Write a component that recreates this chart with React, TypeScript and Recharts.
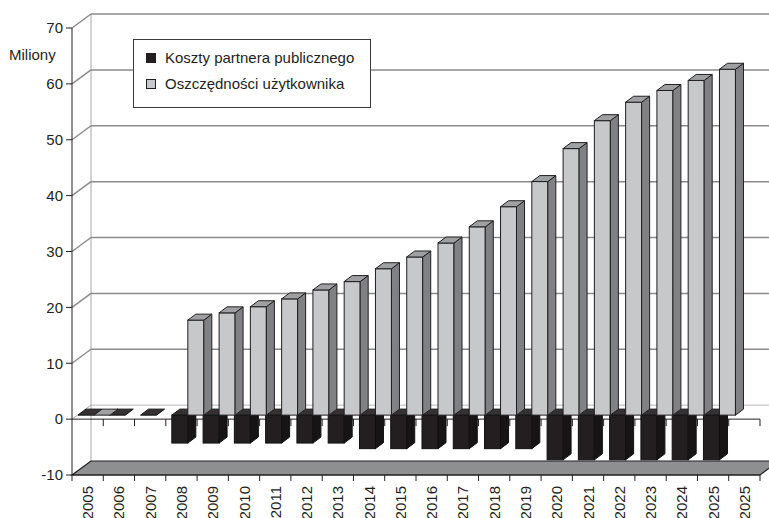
import React from 'react';
import { BarChart, Bar, XAxis, YAxis, CartesianGrid, Legend } from 'recharts';

const years = ['2005','2006','2007','2008','2009','2010','2011','2012','2013','2014','2015','2016','2017','2018','2019','2020','2021','2022','2023','2024','2025','2025'];
const kosztyValues: (number | null)[] = [0,0,0,-5,-5,-5,-5,-5,-5,-6,-6,-6,-6,-6,-6,-8,-8,-8,-8,-8,-8,null];
const oszczValues: (number | null)[] = [0,null,null,17,18.3,19.4,20.8,22.4,23.9,26.2,28.3,30.8,33.7,37.3,41.8,47.7,52.7,56,58.1,59.9,61.9,null];
const yTicks = [-10,0,10,20,30,40,50,60,70];
const seriesNames = ['Koszty partnera publicznego', 'Oszczędności użytkownika'];
const Y_MIN = -10;
const Y_MAX = 70;

const data = years.map((year, i) => ({ year, koszty: kosztyValues[i], oszcz: oszczValues[i] }));

const FONT = '"Liberation Sans", Arial, sans-serif';
const INK = '#231f20';
// 3D geometry
const WALL_DX = 19, WALL_DY = -14;
const BAR_DX = 6, BAR_DY = -4;
const DEPTH_DX = 8, DEPTH_DY = -6;

const pts = (arr: number[][]) => arr.map(([a, b]) => `${a},${b}`).join(' ');

const make3DShape = (c: { front: string; side: string; top: string; stroke: string }) => (props: any) => {
  const { x, y, width, height } = props;
  if (x == null || y == null || width == null || height == null || isNaN(x) || isNaN(y)) return <g />;
  const x0 = x + BAR_DX;
  const x1 = x0 + width;
  const yA = Math.min(y, y + height) + BAR_DY;
  const yB = Math.max(y, y + height) + BAR_DY;
  const tall = yB - yA > 0.5;
  return (
    <g>
      {tall && (
        <rect x={x0} y={yA} width={width} height={yB - yA} fill={c.front} stroke={c.stroke} strokeWidth={1} />
      )}
      {tall && (
        <polygon
          points={pts([[x1, yA], [x1 + DEPTH_DX, yA + DEPTH_DY], [x1 + DEPTH_DX, yB + DEPTH_DY], [x1, yB]])}
          fill={c.side} stroke={c.stroke} strokeWidth={1} strokeLinejoin="round"
        />
      )}
      <polygon
        points={pts([[x0, yA], [x1, yA], [x1 + DEPTH_DX, yA + DEPTH_DY], [x0 + DEPTH_DX, yA + DEPTH_DY]])}
        fill={c.top} stroke={c.stroke} strokeWidth={1} strokeLinejoin="round"
      />
    </g>
  );
};

const blackShape = make3DShape({ front: '#231f20', side: '#171415', top: '#353132', stroke: '#111' });
const grayShape = make3DShape({ front: '#c7c8ca', side: '#808184', top: '#9fa0a2', stroke: '#231f20' });

const renderGridLine = (props: any) => {
  const { x1, y1, x2, index } = props;
  const k = props.key ?? `gl-${index}`;
  const points: number[] = Array.isArray(props.horizontalPoints) && props.horizontalPoints.length
    ? props.horizontalPoints
    : [y1];
  const bottom = props.y != null && props.height != null ? props.y + props.height : Math.max(...points);
  const top = props.y != null && props.height != null ? props.y : Math.min(...points);
  const span = bottom - top || 1;
  const value = Y_MIN + ((bottom - y1) / span) * (Y_MAX - Y_MIN);
  const n = years.length;
  const bw = (x2 - x1) / n;

  if (Math.abs(value - Y_MIN) < 0.01) {
    return (
      <g key={k}>
        <line x1={x1 + WALL_DX} y1={top + WALL_DY} x2={x1 + WALL_DX} y2={y1 + WALL_DY} stroke="#a6a7a9" strokeWidth={1} />
        <polygon
          points={pts([[x1, y1], [x2, y1], [x2 + WALL_DX, y1 + WALL_DY], [x1 + WALL_DX, y1 + WALL_DY]])}
          fill="#8e8f91" stroke={INK} strokeWidth={1.2}
        />
      </g>
    );
  }
  const isZero = Math.abs(value) < 0.01;
  return (
    <g key={k}>
      <line x1={x1} y1={y1} x2={x1 + WALL_DX} y2={y1 + WALL_DY} stroke={isZero ? '#a6a7a9' : '#8a8b8d'} strokeWidth={isZero ? 1 : 1.5} />
      <line x1={x1 + WALL_DX} y1={y1 + WALL_DY} x2={x2 + WALL_DX} y2={y1 + WALL_DY} stroke={isZero ? '#b5b6b8' : '#8a8b8d'} strokeWidth={isZero ? 1 : 1.5} />
      {isZero && (
        <g>
          <line x1={x1} y1={y1} x2={x2} y2={y1} stroke={INK} strokeWidth={1} />
          {years.map((_, i) => (
            <line key={`zt-${i}`} x1={x1 + (i + 1) * bw} y1={y1} x2={x1 + (i + 1) * bw} y2={y1 + 7} stroke={INK} strokeWidth={1} />
          ))}
        </g>
      )}
    </g>
  );
};

const XTick = (props: any) => {
  const { x, y, payload, index } = props;
  const half = payload && payload.offset ? payload.offset : 15.64;
  const axisY = y - 11;
  const last = index === years.length - 1;
  return (
    <g>
      <line x1={x - half} y1={axisY} x2={x - half} y2={axisY + 6} stroke={INK} strokeWidth={1} />
      {last && <line x1={x + half} y1={axisY} x2={x + half} y2={axisY + 6} stroke={INK} strokeWidth={1} />}
      <text
        x={x}
        y={y}
        transform={`rotate(-90, ${x}, ${y})`}
        textAnchor="end"
        dominantBaseline="central"
        fill={INK}
        fontSize={15}
        fontFamily={FONT}
      >
        {payload.value}
      </text>
    </g>
  );
};

const renderLegend = (props: any) => {
  const payload = (props && props.payload) || [];
  return (
    <div
      style={{
        width: 238,
        height: 69,
        boxSizing: 'border-box',
        border: '1px solid #3b3b3b',
        background: '#fff',
        position: 'relative',
        fontFamily: FONT,
        fontSize: 15,
        color: INK,
      }}
    >
      {payload.map((entry: any, i: number) => (
        <div key={`lg-${i}`} style={{ position: 'absolute', left: 12, top: 10 + i * 26, height: 16, display: 'flex', alignItems: 'center', whiteSpace: 'nowrap' }}>
          <span
            style={{
              display: 'inline-block',
              width: 8,
              height: 8,
              background: entry.color,
              border: `1px solid ${INK}`,
              marginRight: 9,
            }}
          />
          <span style={{ lineHeight: '16px' }}>{entry.value}</span>
        </div>
      ))}
    </div>
  );
};

export default function App() {
  return (
    <div style={{ position: 'absolute', left: 0, top: 0, width: 769, height: 518, background: '#fff' }}>
      <BarChart
        width={769}
        height={518}
        data={data}
        margin={{ top: 28, right: 9, left: 0, bottom: 0 }}
        barCategoryGap={0}
        barGap={0}
      >
        <CartesianGrid vertical={false} horizontal={renderGridLine} />
        <XAxis
          dataKey="year"
          height={43}
          interval={0}
          tickLine={false}
          tickSize={6}
          tickMargin={5}
          axisLine={{ stroke: INK }}
          tick={<XTick />}
        />
        <YAxis
          type="number"
          domain={[Y_MIN, Y_MAX]}
          ticks={yTicks}
          interval={0}
          width={72}
          tickSize={6}
          tickMargin={3}
          axisLine={{ stroke: INK }}
          tickLine={{ stroke: INK }}
          tick={{ fill: INK, fontSize: 15, fontFamily: FONT }}
          label={{
            value: 'Miliony',
            content: (p: any) => {
              const vb = p.viewBox || { x: 0, y: 28 };
              return (
                <text x={vb.x + 9} y={vb.y + 32} fill={INK} fontSize={15} fontFamily={FONT}>
                  Miliony
                </text>
              );
            },
          }}
        />
        <Legend
          layout="vertical"
          align="center"
          verticalAlign="middle"
          content={renderLegend}
          wrapperStyle={{ position: 'absolute', left: 133, top: 39, width: 238, height: 69 }}
        />
        <Bar dataKey="koszty" name={seriesNames[0]} fill="#231f20" shape={blackShape} isAnimationActive={false} />
        <Bar dataKey="oszcz" name={seriesNames[1]} fill="#c7c8ca" shape={grayShape} isAnimationActive={false} />
      </BarChart>
    </div>
  );
}
